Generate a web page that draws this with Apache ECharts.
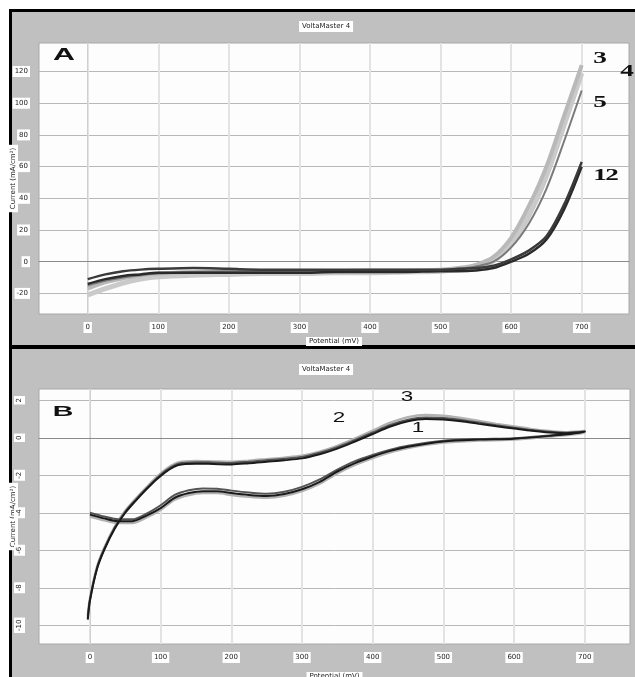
<!DOCTYPE html>
<html><head><meta charset="utf-8">
<script src="https://cdn.jsdelivr.net/npm/echarts@6/dist/echarts.min.js"></script>
<style>
html,body{margin:0;padding:0;background:#fff;}
#frame{position:absolute;left:9px;top:9px;width:626px;height:668px;background:#000;}
#p1{position:absolute;left:12px;top:12px;width:623px;height:333px;background:#c0c0c0;}
#p2{position:absolute;left:12px;top:349px;width:623px;height:328px;background:#c0c0c0;}
#chart{position:absolute;left:0;top:0;width:635px;height:677px;}
</style></head><body>
<div id="frame"></div><div id="p1"></div><div id="p2"></div>
<div id="chart"></div>
<script>
// ---------- Panel A data ----------
const titleText = 'VoltaMaster 4';
const xName = 'Potential (mV)';
const yName = 'Current (mA/cm²)';
const aTickX = [0, 100, 200, 300, 400, 500, 600, 700];
const aTickY = [-20, 0, 20, 40, 60, 80, 100, 120];
const aX = [0, 25, 50, 75, 100, 150, 200, 250, 300, 350, 400, 450, 500, 525, 550, 575, 600, 625, 650, 675, 700];
const a1 = [-11, -8, -6, -5, -4.5, -4, -4.5, -5, -5, -5, -5, -5, -5, -4.5, -4, -2.5, 1.5, 7, 16, 36, 63];
const a2 = [-14, -11, -9, -8, -7, -7, -7, -7, -7, -6.5, -6.5, -6.5, -6, -6, -5.5, -4, 0, 5, 14, 33, 60];
const a3 = [-17, -13, -10.5, -8.5, -7.5, -6.5, -6, -6, -6, -6, -5.5, -5.5, -5, -4, -2, 3, 15, 35, 60, 92, 124];
const a4 = [-21, -17, -13.5, -11, -9.5, -8.5, -8, -7.5, -7.5, -7, -7, -6.5, -6, -5, -3.5, 0.5, 11, 29, 54, 86, 119];
const a5 = [-15, -12, -10, -8.5, -7.5, -6.5, -6, -6, -6, -6, -6, -5.5, -5, -4.5, -3, 0, 9, 24, 46, 76, 108];

// ---------- Panel B data ----------
const bTickX = [0, 100, 200, 300, 400, 500, 600, 700];
const bTickY = [-10, -8, -6, -4, -2, 0, 2];
const bFwdX = [0, 20, 40, 60, 80, 100, 120, 140, 160, 180, 200, 225, 250, 275, 300, 325, 350, 375, 400, 425, 450, 500, 550, 600, 650, 700];
const b1Fwd = [-4.1, -4.3, -4.45, -4.45, -4.15, -3.75, -3.2, -2.95, -2.85, -2.85, -2.95, -3.05, -3.1, -3.0, -2.75, -2.35, -1.8, -1.35, -1.0, -0.7, -0.48, -0.2, -0.1, -0.05, 0.1, 0.32];
const b2Fwd = [-4.0, -4.2, -4.35, -4.35, -4.05, -3.6, -3.05, -2.8, -2.7, -2.72, -2.82, -2.92, -2.98, -2.88, -2.62, -2.22, -1.7, -1.25, -0.92, -0.64, -0.43, -0.16, -0.07, -0.02, 0.12, 0.33];
const b3Fwd = [-4.2, -4.4, -4.55, -4.55, -4.25, -3.85, -3.3, -3.05, -2.95, -2.95, -3.05, -3.15, -3.2, -3.1, -2.85, -2.45, -1.9, -1.45, -1.08, -0.78, -0.55, -0.26, -0.15, -0.1, 0.06, 0.3];
const bRevX = [700, 675, 650, 625, 600, 575, 550, 525, 500, 475, 450, 425, 400, 375, 350, 325, 300, 275, 250, 225, 200, 175, 150, 125, 110, 95, 80, 65, 50, 35, 20, 10, 0, -3];
const b1Rev = [0.33, 0.24, 0.28, 0.37, 0.49, 0.61, 0.74, 0.88, 0.97, 1.0, 0.88, 0.6, 0.2, -0.2, -0.58, -0.88, -1.1, -1.2, -1.28, -1.36, -1.42, -1.4, -1.38, -1.45, -1.75, -2.2, -2.75, -3.35, -4.0, -4.85, -6.0, -7.0, -8.7, -9.7];
const b2Rev = [0.34, 0.27, 0.32, 0.41, 0.54, 0.67, 0.81, 0.95, 1.05, 1.08, 0.96, 0.68, 0.28, -0.12, -0.5, -0.8, -1.02, -1.12, -1.2, -1.28, -1.34, -1.32, -1.3, -1.38, -1.68, -2.14, -2.7, -3.3, -3.95, -4.8, -5.95, -6.95, -8.65, -9.6];
const b3Rev = [0.36, 0.3, 0.36, 0.46, 0.6, 0.74, 0.9, 1.05, 1.17, 1.22, 1.1, 0.8, 0.38, -0.04, -0.43, -0.74, -0.96, -1.06, -1.14, -1.22, -1.28, -1.26, -1.24, -1.32, -1.62, -2.08, -2.65, -3.25, -3.9, -4.75, -5.9, -6.9, -8.6, -9.5];

function pairs(xs, ys) { return xs.map((x, i) => [x, ys[i]]); }
function loop(fx, fy, rx, ry) { return pairs(fx, fy).concat(pairs(rx, ry)); }

const tinyLabel = { fontSize: 7, color: '#222', backgroundColor: '#fff', padding: [2, 2], fontFamily: 'DejaVu Sans' };
const nameStyle = { fontSize: 7, color: '#222', backgroundColor: '#fff', padding: [1, 3], fontFamily: 'DejaVu Sans' };

function xAx(gi, min, max, ticks, gap) {
  return {
    type: 'value', gridIndex: gi, min: min, max: max,
    name: xName, nameLocation: 'middle', nameGap: gap, nameMoveOverlap: false, nameTextStyle: nameStyle,
    axisLine: { show: true, lineStyle: { color: '#8a8a8a', width: 1 } },
    axisTick: { show: false, customValues: ticks },
    axisLabel: Object.assign({ customValues: ticks, margin: 8 }, tinyLabel),
    splitLine: { show: true, lineStyle: { color: '#e3e3e3', width: 2 } }
  };
}
function yAx(gi, min, max, ticks, rot, margin, gap) {
  return {
    type: 'value', gridIndex: gi, min: min, max: max,
    name: yName, nameLocation: 'middle', nameGap: gap, nameMoveOverlap: false, nameRotate: 90, nameTextStyle: nameStyle,
    axisLine: { show: true, lineStyle: { color: '#d0d0d0', width: 1 } },
    axisTick: { show: false, customValues: ticks },
    axisLabel: Object.assign({ customValues: ticks, margin: margin, rotate: rot }, tinyLabel),
    splitLine: { show: true, lineStyle: { color: '#b8b8b8', width: 1 } }
  };
}
function ln(name, data, xi, color, width, z) {
  return { name: name, type: 'line', xAxisIndex: xi, yAxisIndex: xi, data: data, showSymbol: false,
    smooth: 0.3, lineStyle: { color: color, width: width }, z: z, silent: true };
}

const chart = echarts.init(document.getElementById('chart'), null, { renderer: 'canvas' });
chart.setOption({
  animation: false,
  backgroundColor: 'transparent',
  title: [
    { text: titleText, left: 299, top: 21, padding: [2, 3], backgroundColor: '#fff', textStyle: { fontSize: 7, fontWeight: 'normal', color: '#222', fontFamily: 'DejaVu Sans' } },
    { text: titleText, left: 299, top: 364, padding: [2, 3], backgroundColor: '#fff', textStyle: { fontSize: 7, fontWeight: 'normal', color: '#222', fontFamily: 'DejaVu Sans' } }
  ],
  grid: [
    { left: 39, top: 43, width: 590, height: 271, show: true, backgroundColor: '#fdfdfd', borderColor: '#a8a8a8', borderWidth: 1, containLabel: false, outerBoundsMode: 'none' },
    { left: 39, top: 389, width: 591, height: 255, show: true, backgroundColor: '#fdfdfd', borderColor: '#a8a8a8', borderWidth: 1, containLabel: false, outerBoundsMode: 'none' }
  ],
  xAxis: [xAx(0, -69, 767, aTickX, 23), xAx(1, -72, 764, bTickX, 28)],
  yAxis: [yAx(0, -33, 138, aTickY, 0, 9, 21), yAx(1, -11, 2.6, bTickY, 90, 14, 21)],
  series: [
    ln('4', pairs(aX, a4), 0, '#cacaca', 5, 2),
    ln('3', pairs(aX, a3), 0, '#b9b9b9', 4, 3),
    ln('5', pairs(aX, a5), 0, '#7a7a7a', 2, 4),
    ln('2', pairs(aX, a2), 0, '#2a2a2a', 2.5, 5),
    ln('1', pairs(aX, a1), 0, '#3a3a3a', 2.5, 6),
    ln('B3', loop(bFwdX, b3Fwd, bRevX, b3Rev), 1, '#b2b2b2', 2.5, 2),
    ln('B2', loop(bFwdX, b2Fwd, bRevX, b2Rev), 1, '#555555', 2, 3),
    ln('B1', loop(bFwdX, b1Fwd, bRevX, b1Rev), 1, '#1a1a1a', 2, 4)
  ],
  graphic: [
    { type: 'text', x: 64, y: 56, scaleX: 1.9, z: 100, style: { text: 'A', font: 'bold 16px "Liberation Sans"', fill: '#111', align: 'center', verticalAlign: 'middle' } },
    { type: 'text', x: 63, y: 412, scaleX: 1.9, z: 100, style: { text: 'B', font: 'bold 15px "Liberation Sans"', fill: '#111', align: 'center', verticalAlign: 'middle' } },
    { type: 'text', x: 600, y: 59, scaleX: 1.6, z: 100, style: { text: '3', font: 'bold 17px "Liberation Serif"', fill: '#111', align: 'center', verticalAlign: 'middle' } },
    { type: 'text', x: 627, y: 72, scaleX: 1.6, z: 100, style: { text: '4', font: 'bold 17px "Liberation Serif"', fill: '#111', align: 'center', verticalAlign: 'middle' } },
    { type: 'text', x: 600, y: 103, scaleX: 1.6, z: 100, style: { text: '5', font: 'bold 17px "Liberation Serif"', fill: '#111', align: 'center', verticalAlign: 'middle' } },
    { type: 'text', x: 600, y: 176, scaleX: 1.6, z: 100, style: { text: '1', font: 'bold 17px "Liberation Serif"', fill: '#111', align: 'center', verticalAlign: 'middle' } },
    { type: 'text', x: 612, y: 176, scaleX: 1.6, z: 100, style: { text: '2', font: 'bold 17px "Liberation Serif"', fill: '#111', align: 'center', verticalAlign: 'middle' } },
    { type: 'text', x: 407, y: 397, scaleX: 1.6, z: 100, style: { text: '3', font: '14px "Liberation Sans"', fill: '#111', align: 'center', verticalAlign: 'middle' } },
    { type: 'text', x: 339, y: 418, scaleX: 1.6, z: 100, style: { text: '2', font: '14px "Liberation Sans"', fill: '#111', align: 'center', verticalAlign: 'middle' } },
    { type: 'text', x: 418, y: 428, scaleX: 1.6, z: 100, style: { text: '1', font: '14px "Liberation Sans"', fill: '#111', align: 'center', verticalAlign: 'middle' } }
  ]
});
</script>
</body></html>
